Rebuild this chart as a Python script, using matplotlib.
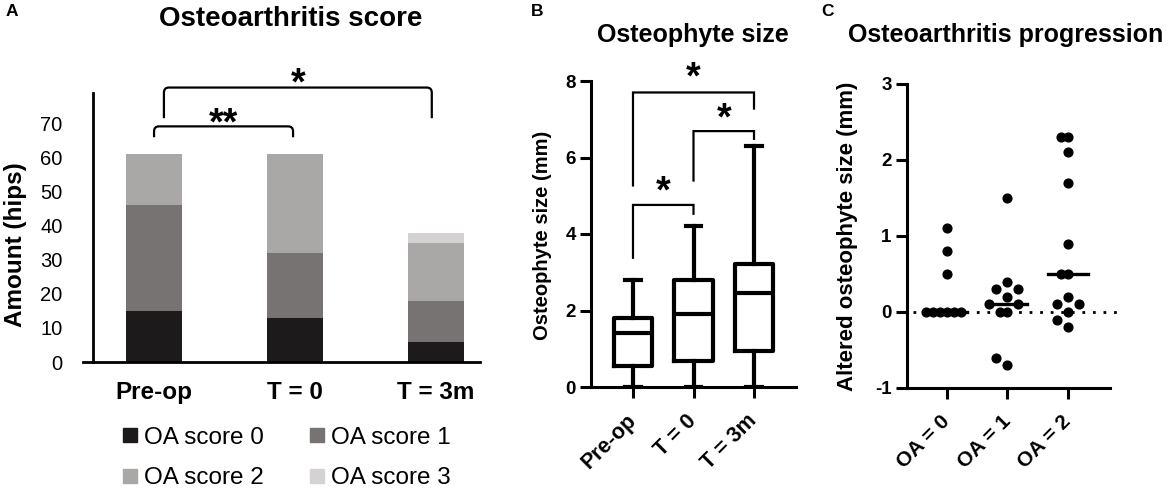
import matplotlib
matplotlib.use('Agg')
import matplotlib.pyplot as plt
import numpy as np
from matplotlib.path import Path
from matplotlib.patches import PathPatch, Patch

plt.rcParams['font.family'] = ['Liberation Sans', 'DejaVu Sans']
plt.rcParams['axes.unicode_minus'] = False

# --- data, panel A (stacked counts per time point)
timepoints = ['Pre-op', 'T = 0', 'T = 3m']
score_labels = ['OA score 0', 'OA score 1', 'OA score 2', 'OA score 3']
score0 = [15, 13, 6]
score1 = [31, 19, 12]
score2 = [15, 29, 17]
score3 = [0, 0, 3]
score_colors = ['#1c1a1b', '#787373', '#aaa7a7', '#d4d2d2']

# --- data, panel B (box summary)
box_min = [0.0, 0.0, 0.0]
box_q1 = [0.56, 0.69, 0.93]
box_med = [1.40, 1.91, 2.45]
box_q3 = [1.80, 2.80, 3.22]
box_max = [2.80, 4.20, 6.30]

# --- data, panel C (change per OA group)
oa_groups = ['OA = 0', 'OA = 1', 'OA = 2']
oa0 = [1.1, 0.8, 0.5, 0, 0, 0, 0, 0, 0]
oa1 = [1.5, 0.4, 0.3, 0.3, 0.2, 0.1, 0.1, 0, 0, -0.6, -0.7]
oa2 = [2.3, 2.3, 2.1, 1.7, 0.9, 0.5, 0.5, 0.2, 0.1, 0.1, 0, -0.1, -0.2]

W, H = 1170, 496
fig = plt.figure(figsize=(W / 100, H / 100), dpi=100)


def px_box(l, t, r, b):
    return [l / W, 1 - b / H, (r - l) / W, (b - t) / H]


def bracket(ax, x1, x2, ytop, yl, yr, text, ty, rx=0.0, ry=0.0, lw=1.6, fs=27):
    M, L, C = Path.MOVETO, Path.LINETO, Path.CURVE3
    verts = [(x1, yl), (x1, ytop - ry), (x1, ytop), (x1 + rx, ytop),
             (x2 - rx, ytop), (x2, ytop), (x2, ytop - ry), (x2, yr)]
    codes = [M, L, C, C, L, C, C, L]
    ax.add_patch(PathPatch(Path(verts, codes), fill=False, lw=lw,
                           color='black', clip_on=False, capstyle='butt'))
    # the asterisk glyph sits high in its box, so push the text down a bit
    ax.annotate(text, ((x1 + x2) / 2, ty), xytext=(0, -6.5), textcoords='offset points',
                ha='center', va='center', fontsize=fs, fontweight='bold',
                annotation_clip=False)


def bold_ticks(ax):
    for t in ax.get_xticklabels() + ax.get_yticklabels():
        t.set_fontweight('bold')


# ================= A =================
axA = fig.add_axes(px_box(83, 93, 480, 362))
x = np.arange(len(timepoints))
bottom = np.zeros(len(timepoints))
for vals, col, lab in zip([score0, score1, score2, score3], score_colors, score_labels):
    axA.bar(x, vals, 0.4, bottom=bottom, color=col, label=lab)
    bottom += np.array(vals)
axA.set_xlim(-0.504, 2.312)
axA.set_ylim(0, 79)
for s in ['top', 'right']:
    axA.spines[s].set_visible(False)
axA.spines['left'].set_position(('data', -0.433))
axA.spines['left'].set_linewidth(2)
axA.spines['bottom'].set_linewidth(2)
axA.set_yticks(range(0, 71, 10))
axA.set_xticks(x, timepoints, fontweight='bold')
axA.tick_params(axis='y', length=0, pad=22, labelsize=14.5)
axA.tick_params(axis='x', length=0, pad=14, labelsize=17.5)

bracket(axA, 0, 0.986, 69.2, 66, 66, '**', 72.4, rx=0.035, ry=1.5)
bracket(axA, 0.07, 1.97, 80.6, 71.6, 71.6, '*', 84.2, rx=0.035, ry=1.5)

fig.text(291 / W, 1 - 19 / H, 'Osteoarthritis score', ha='center', va='center',
         fontsize=20, fontweight='bold')
fig.text(16 / W, 1 - 245 / H, 'Amount (hips)', ha='center', va='center',
         rotation=90, fontsize=17.5, fontweight='bold')
fig.text(12 / W, 1 - 12 / H, 'A', ha='center', va='center', fontsize=12.5, fontweight='bold')

handles = [Patch(color=c) for c in score_colors]
order = [0, 2, 1, 3]
fig.legend([handles[i] for i in order], [score_labels[i] for i in order], ncol=2,
           loc='center', bbox_to_anchor=(287 / W, 1 - 458 / H), frameon=False,
           fontsize=17.5, handlelength=0.55, handleheight=0.55, handletextpad=0.3,
           columnspacing=1.9, labelspacing=0.78)

# ================= B =================
axB = fig.add_axes(px_box(591, 81, 796, 387))
stats = []
for i in range(3):
    stats.append(dict(whislo=box_min[i], q1=box_q1[i], med=box_med[i],
                      q3=box_q3[i], whishi=box_max[i], fliers=[]))
lp = dict(color='black', linewidth=3)
axB.bxp(stats, positions=x, widths=0.63, capwidths=0.25, showfliers=False,
        boxprops=lp, whiskerprops=lp, capprops=lp, medianprops=lp)
axB.set_xlim(-0.694, 2.694)
axB.set_ylim(0, 8)
for s in ['top', 'right']:
    axB.spines[s].set_visible(False)
for s in ['left', 'bottom']:
    axB.spines[s].set_linewidth(2.2)
axB.set_yticks([0, 2, 4, 6, 8])
axB.set_xticks(x, timepoints, rotation=45, ha='right', va='center',
               rotation_mode='anchor')
axB.tick_params(length=8, width=2.2, labelsize=13.5, pad=3)
axB.tick_params(axis='x', pad=14, labelsize=15.5)
bold_ticks(axB)

bracket(axB, 0, 1, 4.76, 3.35, 4.5, '*', 5.33)
bracket(axB, 1, 2, 6.69, 5.37, 6.46, '*', 7.24)
bracket(axB, 0, 2, 7.7, 5.24, 7.25, '*', 8.29)

fig.text(693 / W, 1 - 35 / H, 'Osteophyte size', ha='center', va='center',
         fontsize=18, fontweight='bold')
fig.text(542 / W, 1 - 235 / H, 'Osteophyte size (mm)', ha='center', va='center',
         rotation=90, fontsize=14.5, fontweight='bold')
fig.text(537 / W, 1 - 12 / H, 'B', ha='center', va='center', fontsize=12.5, fontweight='bold')

# ================= C =================
axC = fig.add_axes(px_box(907, 84, 1110, 388))
axC.set_xlim(-0.654, 2.69)
axC.set_ylim(-1, 3)
for s in ['top', 'right']:
    axC.spines[s].set_visible(False)
for s in ['left', 'bottom']:
    axC.spines[s].set_linewidth(2.2)
axC.set_yticks([-1, 0, 1, 2, 3])
axC.set_xticks(x, oa_groups, rotation=45, ha='right', va='center',
               rotation_mode='anchor')
axC.tick_params(length=8, width=2.2, labelsize=13.5, pad=3)
axC.tick_params(axis='x', pad=14, labelsize=15)
bold_ticks(axC)

axC.plot([-0.555, 2.82], [0, 0], color='black', lw=2, ls=(0, (1, 2.8)),
         clip_on=False, zorder=1)


def swarm_offsets(ax, center, vals, tie_px=7.0, near_px=13.0):
    # simple beeswarm: each point takes the smallest horizontal shift
    # that keeps it clear of the points already placed
    sx = ax.transData.transform([(1, 0)])[0][0] - ax.transData.transform([(0, 0)])[0][0]
    sy = ax.transData.transform([(0, 1)])[0][1] - ax.transData.transform([(0, 0)])[0][1]
    steps = np.arange(0.5, 60, 0.5)
    cand = np.concatenate([[0], np.ravel(np.column_stack([-steps, steps]))])
    placed = []
    offs = np.zeros(len(vals))
    for i in np.argsort(vals, kind='stable'):
        yp = vals[i] * sy
        for c in cand:
            ok = True
            for px, py, v in placed:
                lim = tie_px if v == vals[i] else near_px
                if (c - px) ** 2 + (yp - py) ** 2 < lim ** 2:
                    ok = False
                    break
            if ok:
                placed.append((c, yp, vals[i]))
                offs[i] = c / sx
                break
    return center + offs


for i, vals in enumerate([oa0, oa1, oa2]):
    vals = np.array(vals, dtype=float)
    xs = swarm_offsets(axC, i, vals)
    axC.plot(xs, vals, 'o', color='black', ms=6.3, zorder=3, clip_on=False)
    axC.plot([i - 0.33, i + 0.33], [np.median(vals)] * 2, color='black', lw=2.4, zorder=4)

fig.text(1006 / W, 1 - 35 / H, 'Osteoarthritis progression', ha='center', va='center',
         fontsize=18, fontweight='bold')
fig.text(847 / W, 1 - 236 / H, 'Altered osteophyte size (mm)', ha='center', va='center',
         rotation=90, fontsize=16, fontweight='bold')
fig.text(827 / W, 1 - 12 / H, 'C', ha='center', va='center', fontsize=12.5, fontweight='bold')

fig.savefig('out.png', dpi=100)
